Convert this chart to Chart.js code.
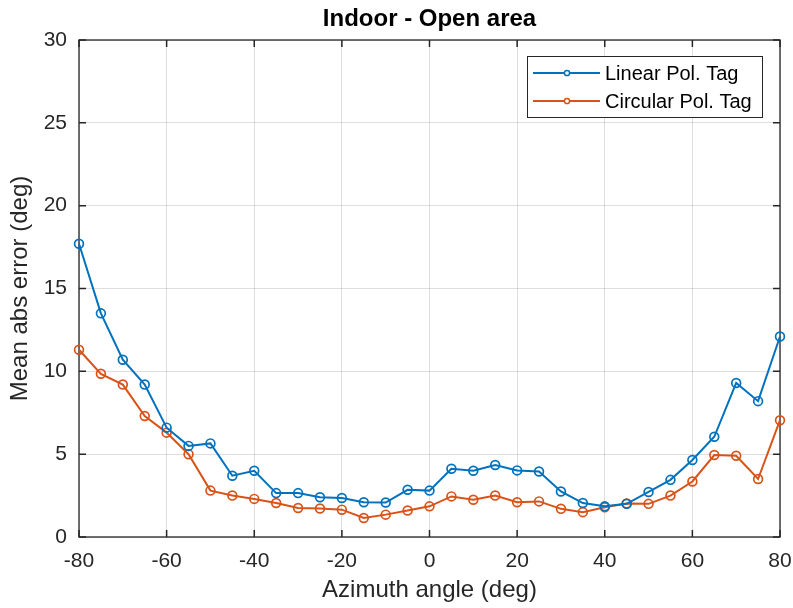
<!DOCTYPE html>
<html><head><meta charset="utf-8">
<script src="https://cdn.jsdelivr.net/npm/chart.js@4"></script>
<style>html,body{margin:0;padding:0;background:#fff}</style>
</head><body>
<canvas id="c" width="793" height="608"></canvas>
<script>
const angles = [-80,-75,-70,-65,-60,-55,-50,-45,-40,-35,-30,-25,-20,-15,-10,-5,0,5,10,15,20,25,30,35,40,45,50,55,60,65,70,75,80];
const linearTag = [17.7,13.5,10.7,9.2,6.6,5.5,5.65,3.7,4.0,2.65,2.65,2.4,2.35,2.1,2.08,2.85,2.8,4.12,4.0,4.35,4.02,3.95,2.75,2.05,1.85,2.0,2.72,3.45,4.65,6.05,9.3,8.2,12.1];
const circularTag = [11.3,9.85,9.2,7.3,6.3,5.0,2.8,2.5,2.3,2.05,1.75,1.72,1.65,1.15,1.35,1.6,1.85,2.45,2.25,2.5,2.1,2.15,1.7,1.5,1.8,2.02,2.0,2.5,3.35,4.95,4.9,3.5,7.05];
const xTickValues = [-80,-60,-40,-20,0,20,40,60,80];
const yTickValues = [0,5,10,15,20,25,30];
const seriesNames = ['Linear Pol. Tag','Circular Pol. Tag'];
const chartTitle = 'Indoor - Open area';
const xLabel = 'Azimuth angle (deg)';
const yLabel = 'Mean abs error (deg)';

const COLORS = ['#0072BD','#D95319'];
const FONT = '"Liberation Sans", Arial, Helvetica, sans-serif';
const AXIS = '#262626';

function makeDataset(i, values) {
  return {
    label: seriesNames[i],
    data: angles.map((a, k) => ({x: a, y: values[k]})),
    borderColor: COLORS[i],
    backgroundColor: COLORS[i],
    borderWidth: 2,
    pointRadius: 4.4,
    pointBorderWidth: 1.7,
    pointBackgroundColor: 'rgba(0,0,0,0)',
    pointBorderColor: COLORS[i],
    tension: 0,
    clip: false
  };
}

const framePlugin = {
  id: 'frame',
  beforeDatasetsDraw(chart) {
    const {ctx, chartArea: a, scales: {x, y}} = chart;
    ctx.save();
    ctx.strokeStyle = AXIS;
    ctx.lineWidth = 1.3;
    ctx.strokeRect(a.left, a.top, a.right - a.left, a.bottom - a.top);
    ctx.lineWidth = 1.5;
    ctx.beginPath();
    const L = 7;
    xTickValues.forEach(v => {
      const px = x.getPixelForValue(v);
      ctx.moveTo(px, a.bottom); ctx.lineTo(px, a.bottom - L);
      ctx.moveTo(px, a.top); ctx.lineTo(px, a.top + L);
    });
    yTickValues.forEach(v => {
      const py = y.getPixelForValue(v);
      ctx.moveTo(a.left, py); ctx.lineTo(a.left + L, py);
      ctx.moveTo(a.right, py); ctx.lineTo(a.right - L, py);
    });
    ctx.stroke();
    ctx.restore();
  }
};

const legendPlugin = {
  id: 'innerLegend',
  afterDatasetsDraw(chart) {
    const {ctx, chartArea: a} = chart;
    const w = 235, h = 61;
    const left = a.right - 18 - w, top = a.top + 16;
    ctx.save();
    ctx.fillStyle = '#fff';
    ctx.fillRect(left, top, w, h);
    ctx.strokeStyle = AXIS;
    ctx.lineWidth = 1;
    ctx.strokeRect(left + 0.5, top + 0.5, w, h);
    chart.data.datasets.forEach((ds, i) => {
      const cy = top + 17 + i * 28;
      ctx.strokeStyle = ds.borderColor;
      ctx.lineWidth = 2;
      ctx.beginPath();
      ctx.moveTo(left + 6, cy); ctx.lineTo(left + 73, cy);
      ctx.stroke();
      ctx.lineWidth = 1.5;
      ctx.beginPath();
      ctx.arc(left + 40, cy, 2.6, 0, Math.PI * 2);
      ctx.fillStyle = '#fff';
      ctx.fill();
      ctx.stroke();
      ctx.fillStyle = '#000';
      ctx.font = '20px ' + FONT;
      ctx.textBaseline = 'middle';
      ctx.textAlign = 'left';
      ctx.fillText(ds.label, left + 78, cy + 1);
    });
    ctx.restore();
  }
};

new Chart(document.getElementById('c'), {
  type: 'line',
  data: { datasets: [makeDataset(0, linearTag), makeDataset(1, circularTag)] },
  options: {
    responsive: false,
    animation: false,
    devicePixelRatio: 1,
    layout: { padding: { left: 0, right: 13, top: 0, bottom: 0 } },
    plugins: {
      legend: { display: false },
      tooltip: { enabled: false },
      title: {
        display: true,
        text: chartTitle,
        fullSize: false,
        color: '#000',
        font: { family: FONT, size: 24, weight: 'bold', lineHeight: 1.2 },
        padding: { top: 4.5, bottom: 6.7 }
      }
    },
    scales: {
      x: {
        type: 'linear',
        min: -80, max: 80,
        afterBuildTicks: s => { s.ticks = xTickValues.map(v => ({value: v})); },
        afterFit: s => { s.height = 71; s.paddingLeft = 0; s.paddingRight = 0; },
        ticks: { color: AXIS, font: { family: FONT, size: 21 }, padding: 12, maxRotation: 0 },
        grid: { color: 'rgba(0,0,0,0.13)', lineWidth: 1, drawTicks: false },
        border: { display: false },
        title: { display: true, text: xLabel, color: AXIS, font: { family: FONT, size: 24, lineHeight: 1.2 }, padding: { top: 0, bottom: 3.6 } }
      },
      y: {
        type: 'linear',
        min: 0, max: 30,
        afterBuildTicks: s => { s.ticks = yTickValues.map(v => ({value: v})); },
        afterFit: s => { s.width = 79; },
        ticks: { color: AXIS, font: { family: FONT, size: 21 }, padding: 12 },
        grid: { color: 'rgba(0,0,0,0.13)', lineWidth: 1, drawTicks: false },
        border: { display: false },
        title: { display: true, text: yLabel, color: AXIS, font: { family: FONT, size: 24, lineHeight: 1.2 }, padding: { top: 5.6, bottom: 0 } }
      }
    }
  },
  plugins: [framePlugin, legendPlugin]
});
</script>
</body></html>
